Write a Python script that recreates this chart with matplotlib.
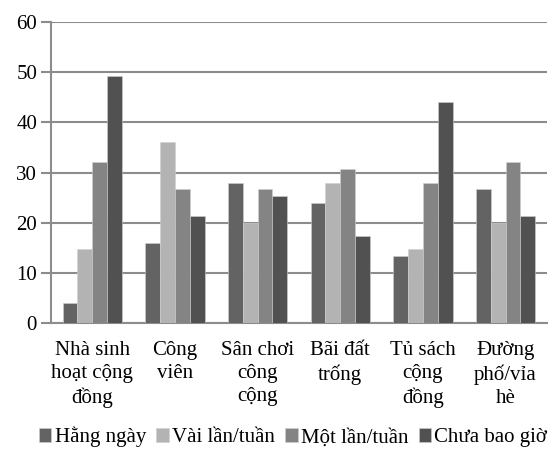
import matplotlib
matplotlib.use("Agg")
import matplotlib.pyplot as plt
import numpy as np

plt.rcParams['font.family'] = ['Liberation Serif', 'DejaVu Serif']

categories = ["Nhà sinh\nhoạt cộng\nđồng", "Công\nviên", "Sân chơi\ncông\ncộng",
              "Bãi đất\ntrống", "Tủ sách\ncộng\nđồng", "Đường\nphố/vỉa\nhè"]
series_names = ["Hằng ngày", "Vài lần/tuần", "Một lần/tuần", "Chưa bao giờ"]
hang_ngay = [4, 16, 28, 24, 13.3, 26.7]
vai_lan = [14.7, 36, 20, 28, 14.7, 20]
mot_lan = [32, 26.7, 26.7, 30.7, 28, 32]
chua_bao_gio = [49.3, 21.3, 25.3, 17.3, 44, 21.3]
colors = ["#636363", "#b3b3b3", "#848484", "#515151"]

fig = plt.figure(figsize=(5.48, 4.54), dpi=100)
ax = fig.add_axes([0.093, 0.2885, 0.905, 0.663])

x = np.arange(len(categories))
w = 0.18
data = [hang_ngay, vai_lan, mot_lan, chua_bao_gio]
for i, vals in enumerate(data):
    ax.bar(x + (i - 1.5) * w, vals, w, color=colors[i], label=series_names[i],
           edgecolor="#d0d0d0", linewidth=0.4, zorder=3)

ax.set_xlim(-0.5, 5.5)
ax.set_ylim(0, 60)
ax.set_yticks(range(0, 61, 10))
ax.grid(axis='y', color="#8c8c8c", linewidth=1.5, zorder=0)
for s in ['top', 'right']:
    ax.spines[s].set_visible(False)
ax.spines['left'].set_color("#8c8c8c")
ax.spines['left'].set_linewidth(1.5)
ax.spines['bottom'].set_color("#8c8c8c")
ax.spines['bottom'].set_linewidth(1.5)
ax.tick_params(axis='y', length=7, width=1.5, color="#8c8c8c", labelsize=15, pad=3)
ax.tick_params(axis='x', length=0, labelsize=15, pad=13)
ax.set_xticks(x)
ax.set_xticklabels(categories, linespacing=1.3)

fig.legend(*ax.get_legend_handles_labels(), loc='center', bbox_to_anchor=(0.535, 0.037),
           ncol=4, frameon=False, fontsize=15, handlelength=0.6, handleheight=0.6,
           handletextpad=0.15, columnspacing=0.5, borderaxespad=0)

fig.savefig("out.png", dpi=100)
